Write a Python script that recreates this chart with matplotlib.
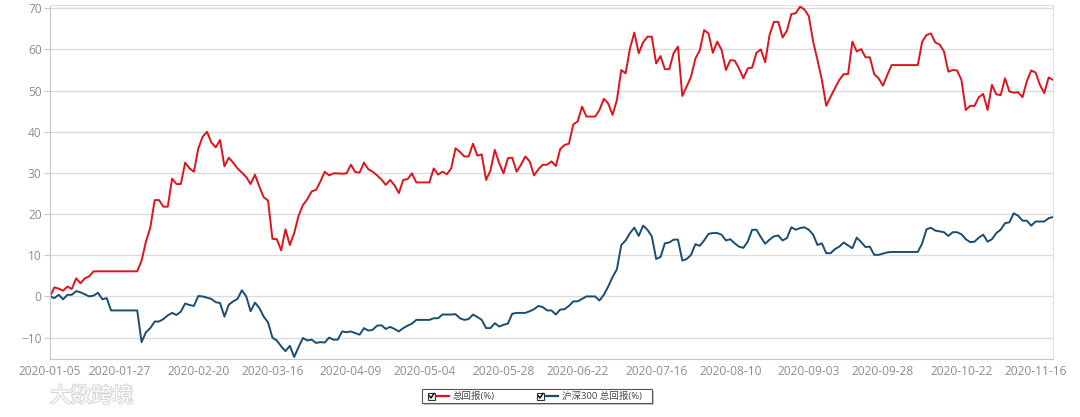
import matplotlib
matplotlib.use("Agg")
import matplotlib.pyplot as plt
import matplotlib.patheffects as pe
from matplotlib.patches import Rectangle
from matplotlib.lines import Line2D
import numpy as np
import pandas as pd

plt.rcParams["font.family"] = ["Open Sans", "Noto Sans CJK SC", "DejaVu Sans"]

# category axis: start date, then every weekday
dates = pd.DatetimeIndex(["2020-01-05"]).append(pd.bdate_range("2020-01-06", "2020-11-20"))

tick_labels = [
    "2020-01-05", "2020-01-27", "2020-02-20", "2020-03-16", "2020-04-09",
    "2020-05-04", "2020-05-28", "2020-06-22", "2020-07-16", "2020-08-10",
    "2020-09-03", "2020-09-28", "2020-10-22", "2020-11-16",
]

series_names = ["总回报(%)", "沪深300 总回报(%)"]

fund_ret = [
    0, 2.2, 1.9, 1.4, 2.4, 1.8, 4.4, 3.2, 4.4, 4.9,
    6.1, 6.1, 6.1, 6.1, 6.1, 6.1, 6.1, 6.1, 6.1, 6.1, 6.1,
    8.7, 13.3, 16.7, 23.4, 23.4, 21.8, 21.8, 28.6, 27.3, 27.3,
    32.5, 31.1, 30.3, 35.9, 38.8, 40.0, 37.4, 36.2, 38.0, 31.6,
    33.7, 32.5, 31.1, 30.1, 29.0, 27.3, 29.6, 26.7, 24.1, 23.3,
    14.0, 13.9, 11.2, 16.3, 12.5, 15.4, 19.6, 22.2, 23.6, 25.5,
    25.9, 27.9, 30.3, 29.4, 29.9, 29.9, 29.8, 29.9, 32.0, 30.2,
    30.1, 32.5, 30.9, 30.3, 29.4, 28.4, 27.1, 28.3, 27.0, 25.1,
    28.3, 28.5, 29.9, 27.7, 27.7, 27.7, 27.7, 31.1, 29.6, 30.3,
    29.7, 31.1, 36.0, 35.1, 34.0, 34.0, 37.1, 34.2, 34.5, 28.3,
    30.6, 35.6, 32.4, 29.9, 33.6, 33.7, 30.3, 32.0, 34.0, 32.8,
    29.4, 30.9, 32.0, 32.0, 32.8, 31.7, 35.8, 36.8, 37.1, 41.8,
    42.5, 46.1, 43.7, 43.7, 43.7, 45.3, 48.0, 46.9, 44.1, 47.7,
    55.0, 54.2, 60.3, 64.1, 59.1, 61.7, 63.1, 63.1, 56.6, 58.4,
    55.2, 55.2, 59.1, 60.7, 48.7, 51.0, 53.4, 57.8, 59.8, 64.7,
    63.9, 59.2, 61.9, 59.9, 55.0, 57.4, 57.3, 55.4, 53.0, 55.4,
    55.6, 59.2, 60.0, 56.9, 63.5, 66.7, 66.7, 62.9, 64.6, 68.6,
    68.8, 70.4, 69.7, 68.1, 61.9, 57.4, 52.6, 46.3, 48.5, 50.6,
    52.6, 54.0, 54.0, 61.9, 59.5, 60.1, 58.1, 58.1, 54.0, 53.0,
    51.2, 53.8, 56.2, 56.2, 56.2, 56.2, 56.2, 56.2, 56.2, 61.9,
    63.5, 63.9, 61.7, 61.2, 59.5, 54.6, 55.0, 54.9, 52.6, 45.3,
    46.3, 46.3, 48.4, 49.2, 45.3, 51.4, 49.1, 48.9, 53.0, 49.8,
    49.5, 49.6, 48.4, 52.3, 54.9, 54.4, 51.4, 49.4, 53.2, 52.6,
]

hs300_ret = [
    0, -0.4, 0.4, -0.7, 0.4, 0.4, 1.3, 1.0, 0.5, 0.0,
    0.2, 0.9, -0.7, -0.4, -3.4, -3.4, -3.4, -3.4, -3.4, -3.4, -3.4,
    -11.1, -8.7, -7.7, -6.1, -6.1, -5.5, -4.6, -4.0, -4.5, -3.7,
    -1.7, -2.1, -2.3, 0.1, 0.0, -0.3, -0.6, -1.4, -1.6, -4.9,
    -2.0, -1.2, -0.6, 1.5, 0.0, -3.6, -1.5, -2.8, -4.9, -6.3,
    -10.0, -10.7, -12.1, -13.3, -12.0, -14.7, -12.3, -10.1, -10.7, -10.5,
    -11.3, -11.1, -11.2, -10.0, -10.5, -10.5, -8.5, -8.7, -8.5, -8.9,
    -9.3, -7.7, -8.3, -8.1, -7.1, -7.0, -7.9, -7.4, -7.9, -8.5,
    -7.7, -7.1, -6.6, -5.7, -5.7, -5.7, -5.7, -5.3, -5.3, -4.4,
    -4.4, -4.4, -4.3, -5.3, -5.7, -5.5, -4.4, -5.0, -5.7, -7.7,
    -7.7, -6.5, -7.3, -6.9, -6.6, -4.2, -4.0, -4.0, -4.0, -3.6,
    -3.1, -2.3, -2.6, -3.4, -3.4, -4.4, -3.2, -3.1, -2.3, -1.2,
    -1.2, -0.6, 0.0, 0.0, 0.0, -1.0, 0.4, 2.4, 4.7, 6.6,
    12.5, 13.6, 15.4, 16.7, 14.7, 17.2, 16.2, 14.6, 9.1, 9.6,
    12.9, 13.1, 13.8, 13.8, 8.7, 9.1, 10.1, 12.7, 12.3, 13.6,
    15.2, 15.4, 15.4, 15.0, 13.6, 13.9, 12.9, 12.1, 11.8, 13.3,
    16.2, 16.2, 14.4, 12.8, 13.8, 14.6, 14.8, 13.6, 14.2, 16.8,
    16.2, 16.6, 16.8, 16.2, 15.0, 12.5, 12.9, 10.5, 10.5, 11.5,
    12.1, 13.1, 12.4, 11.7, 14.3, 13.2, 12.0, 12.1, 10.1, 10.1,
    10.4, 10.7, 10.8, 10.8, 10.8, 10.8, 10.8, 10.8, 10.8, 12.9,
    16.3, 16.7, 16.0, 15.8, 15.6, 14.7, 15.6, 15.6, 15.1, 13.9,
    13.2, 13.3, 14.3, 15.0, 13.3, 13.9, 15.4, 16.2, 17.8, 18.0,
    20.2, 19.6, 18.4, 18.4, 17.2, 18.2, 18.2, 18.2, 19.0, 19.3,
]

RED = "#e0131b"
BLUE = "#1b4d72"
W, H = 1080, 417


def fpx(x, y):
	"""pixel position (from top-left) -> figure fraction"""
	return x / W, 1 - y / H


fig = plt.figure(figsize=(W / 100, H / 100), dpi=100)
l, t = fpx(50, 5)
r, b = fpx(1053, 359)
ax = fig.add_axes([l, b, r - l, t - b])

x = np.arange(len(dates))
ax.plot(x, fund_ret, color=RED, lw=1.4)
ax.plot(x, hs300_ret, color=BLUE, lw=1.4)

ax.set_xlim(0, len(dates) - 1)
ax.set_ylim(-15.2, 70.8)
ax.set_yticks(np.arange(-10, 71, 10))
ax.set_xticks(dates.get_indexer(pd.to_datetime(tick_labels)))
ax.set_xticklabels(tick_labels)
ax.grid(axis="y", color="#dcdcdc", lw=1)
ax.set_axisbelow(True)

for side in ["top", "right"]:
	ax.spines[side].set_color("#e0e0e0")
for side in ["left", "bottom"]:
	ax.spines[side].set_color("#c8c8c8")
ax.tick_params(axis="y", length=4, color="#c8c8c8", labelcolor="#8c8c8c", labelsize=8.6, pad=2)
ax.tick_params(axis="x", length=0, labelcolor="#8c8c8c", labelsize=8.6, pad=4)

# legend box at bottom
lx0, ly0 = 422, 389
lx1, ly1 = 652, 403
sx, sy = fpx(lx0 + 2, ly1 + 2)
fig.patches.append(Rectangle((sx, sy), (lx1 - lx0) / W, (ly1 - ly0) / H,
                             transform=fig.transFigure, fc="#c4c4c4", ec="none", zorder=1))
bx, by = fpx(lx0, ly1)
fig.patches.append(Rectangle((bx, by), (lx1 - lx0) / W, (ly1 - ly0) / H,
                             transform=fig.transFigure, fc="white", ec="#555555", lw=0.8, zorder=2))

item_x = [428, 537]
for i, (name, col) in enumerate(zip(series_names, [RED, BLUE])):
	cx = item_x[i]
	cbx, cby = fpx(cx, 399.5)
	fig.patches.append(Rectangle((cbx, cby), 7 / W, 7 / H, transform=fig.transFigure,
	                             fc="white", ec="#333333", lw=0.8, zorder=3))
	ck = [fpx(cx + 1.5, 396), fpx(cx + 3, 398), fpx(cx + 6, 393.5)]
	fig.lines.append(Line2D([p[0] for p in ck], [p[1] for p in ck], transform=fig.transFigure,
	                        color="#111111", lw=1.1, zorder=4))
	a = fpx(cx + 9, 396)
	c = fpx(cx + 21, 396)
	fig.lines.append(Line2D([a[0], c[0]], [a[1], c[1]], transform=fig.transFigure,
	                        color=col, lw=1.6, zorder=4))
	tx, ty = fpx(cx + 25, 396)
	fig.text(tx, ty, name, fontsize=6.8, color="#444444", va="center", ha="left", zorder=5)

# watermark
wx, wy = fpx(50, 396)
fig.text(wx, wy, "大数跨境", fontsize=15, color="white", va="center", ha="left",
         family=["Noto Sans CJK SC"],
         path_effects=[pe.withStroke(linewidth=1.4, foreground="#d4d4d4")])

fig.savefig("out.png", dpi=100)
